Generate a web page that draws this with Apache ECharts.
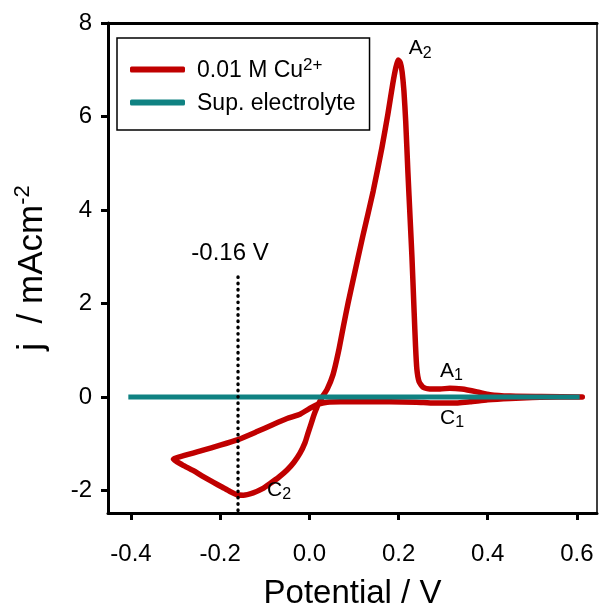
<!DOCTYPE html>
<html><head><meta charset="utf-8">
<script src="https://cdn.jsdelivr.net/npm/echarts@6/dist/echarts.min.js"></script>
<style>html,body{margin:0;padding:0;background:#fff}#c{width:599px;height:605px}</style>
</head><body><div id="c"></div>
<script>
const FONT = '"Liberation Sans", Arial, sans-serif';
const xTicks = [-0.4, -0.2, 0, 0.2, 0.4, 0.6];
const yTicks = [-2, 0, 2, 4, 6, 8];

const cuName = '0.01 M Cu2+';
const supName = 'Sup. electrolyte';

// cyclic voltammogram in scan order
const cuPotential = [0.612, 0.56, 0.50, 0.45, 0.40, 0.36, 0.32, 0.28, 0.24, 0.18, 0.12, 0.07, 0.04, 0.02, 0.005,
  -0.02, -0.05, -0.08, -0.12, -0.16, -0.20, -0.24, -0.28, -0.305,
  -0.285, -0.261, -0.238, -0.216, -0.195, -0.178, -0.162, -0.148, -0.126, -0.105, -0.088, -0.068, -0.050, -0.035,
  -0.021, -0.010, -0.003, 0.004, 0.009, 0.014, 0.019, 0.025, 0.030, 0.040, 0.053, 0.065, 0.076, 0.087, 0.098,
  0.120, 0.143, 0.163, 0.176, 0.187, 0.194, 0.199, 0.204, 0.208, 0.212, 0.216, 0.221, 0.226, 0.230, 0.235,
  0.238, 0.241, 0.246, 0.255, 0.270, 0.293, 0.315, 0.342, 0.376, 0.405, 0.45, 0.52, 0.612];
const cuCurrent = [0.00, 0.00, -0.01, -0.03, -0.06, -0.10, -0.13, -0.13, -0.11, -0.10, -0.10, -0.10, -0.11, -0.15, -0.22,
  -0.36, -0.46, -0.58, -0.75, -0.91, -1.03, -1.14, -1.25, -1.33,
  -1.45, -1.57, -1.70, -1.82, -1.93, -2.02, -2.09, -2.10, -2.05, -1.96, -1.85, -1.71, -1.56, -1.40,
  -1.20, -0.98, -0.77, -0.57, -0.42, -0.29, -0.17, -0.07, 0.02, 0.17, 0.48, 0.96, 1.50, 2.02, 2.50,
  3.45, 4.40, 5.35, 6.05, 6.70, 7.05, 7.21, 7.15, 6.95, 6.55, 5.90, 4.80, 3.80, 3.00, 1.80,
  1.10, 0.60, 0.33, 0.21, 0.17, 0.17, 0.19, 0.17, 0.11, 0.05, 0.02, 0.01, 0.00];

const supPotential = [-0.406, 0.606];
const supCurrent = [0, 0];

const markerPotential = [-0.16, -0.16];
const markerCurrent = [2.57, -2.48];

const noteText = ['{b|A}{s|2}', '{b|A}{s|1}', '{b|C}{s|1}', '{b|C}{s|2}', '{v|-0.16 V}'];
const notePotential = [0.223, 0.293, 0.293, -0.095, -0.178];
const noteCurrent = [7.42, 0.53, -0.49, -2.03, 3.08];

const zip = (a, b) => a.map((v, i) => [v, b[i]]);

const chart = echarts.init(document.getElementById('c'), null, {renderer: 'canvas'});
const xMin = -0.4516, xMax = 0.645, yMin = -2.48, yMax = 8;

chart.setOption({
  animation: false,
  backgroundColor: '#fff',
  textStyle: {fontFamily: FONT, color: '#000'},
  grid: {left: 108, right: 2, top: 23, bottom: 92, containLabel: false, outerBoundsMode: 'none'},
  legend: {
    data: [cuName, supName],
    orient: 'vertical', left: 117, top: 38,
    padding: [19, 14, 15, 13],
    itemWidth: 55, itemHeight: 6, itemGap: 8,
    icon: 'roundRect', selectedMode: false,
    borderColor: '#000', borderWidth: 1.5, borderRadius: 0,
    formatter: n => n === cuName ? '{t|0.01 M Cu}{p|2+}' : '{t|Sup. electrolyte}',
    textStyle: {
      rich: {
        t: {fontSize: 23, fontFamily: FONT, color: '#000', lineHeight: 25, padding: [2, 0, 0, 7]},
        p: {fontSize: 17, fontFamily: FONT, color: '#000', lineHeight: 17, verticalAlign: 'top'}
      }
    }
  },
  xAxis: [{
    type: 'value', min: xMin, max: xMax, position: 'bottom',
    axisLine: {show: true, onZero: false, lineStyle: {color: '#000', width: 3}},
    axisTick: {show: true, customValues: xTicks, length: 7, lineStyle: {color: '#000', width: 3}},
    axisLabel: {customValues: xTicks, formatter: v => v.toFixed(1), fontSize: 24, color: '#000', margin: 29, fontFamily: FONT},
    splitLine: {show: false},
    name: 'Potential / V', nameLocation: 'middle', nameGap: 64,
    nameTextStyle: {fontSize: 33, color: '#000', fontFamily: FONT}
  }, {
    type: 'value', min: xMin, max: xMax, position: 'top',
    axisLine: {show: true, onZero: false, lineStyle: {color: '#000', width: 3}},
    axisTick: {show: false}, axisLabel: {show: false}, splitLine: {show: false}
  }],
  yAxis: [{
    type: 'value', min: yMin, max: yMax, position: 'left',
    axisLine: {show: true, onZero: false, lineStyle: {color: '#000', width: 3}},
    axisTick: {show: true, customValues: yTicks, length: 7, lineStyle: {color: '#000', width: 3}},
    axisLabel: {customValues: yTicks, formatter: v => String(Math.round(v)), fontSize: 24, color: '#000', margin: 16, fontFamily: FONT},
    splitLine: {show: false},
    name: '{m|j  / mAcm}{p|-2}', nameLocation: 'middle', nameRotate: 90, nameGap: 59,
    nameTextStyle: {
      rich: {
        m: {fontSize: 35, fontFamily: FONT, color: '#000', lineHeight: 37, padding: [4, 0, 0, 0]},
        p: {fontSize: 22, fontFamily: FONT, color: '#000', lineHeight: 22, verticalAlign: 'top'}
      }
    }
  }, {
    type: 'value', min: yMin, max: yMax, position: 'right',
    axisLine: {show: true, onZero: false, lineStyle: {color: '#000', width: 1.5}},
    axisTick: {show: false}, axisLabel: {show: false}, splitLine: {show: false}
  }],
  series: [{
    name: cuName, type: 'line', data: zip(cuPotential, cuCurrent),
    showSymbol: false, symbol: 'none', z: 2, silent: true, smooth: 0.2,
    color: '#C00000',
    lineStyle: {color: '#C00000', width: 5.5, cap: 'round', join: 'round'}
  }, {
    name: supName, type: 'line', data: zip(supPotential, supCurrent),
    showSymbol: false, symbol: 'none', z: 3, silent: true,
    color: '#0F8282',
    lineStyle: {color: '#0F8282', width: 5, cap: 'butt'}
  }, {
    name: 'marker', type: 'line', data: zip(markerPotential, markerCurrent),
    showSymbol: false, symbol: 'none', z: 4, silent: true,
    lineStyle: {color: '#000', width: 3.4, type: [0.5, 5.8], cap: 'round'}
  }, {
    name: 'notes', type: 'scatter', symbolSize: 0, z: 5, silent: true,
    itemStyle: {opacity: 1},
    data: zip(notePotential, noteCurrent).map((p, i) => ({
      value: p, name: noteText[i],
      label: i === 4 ? {position: 'inside', align: 'center', verticalAlign: 'middle'} : {}
    })),
    label: {
      show: true, position: 'right', distance: 0, color: '#000', opacity: 1,
      formatter: p => p.name,
      rich: {
        b: {fontSize: 21, fontFamily: FONT, color: '#000', lineHeight: 22, padding: [0, 0, 3, 0]},
        s: {fontSize: 16, fontFamily: FONT, color: '#000', lineHeight: 16, verticalAlign: 'bottom'},
        v: {fontSize: 24, fontFamily: FONT, color: '#000', lineHeight: 26}
      }
    }
  }]
});
</script>
</body></html>
